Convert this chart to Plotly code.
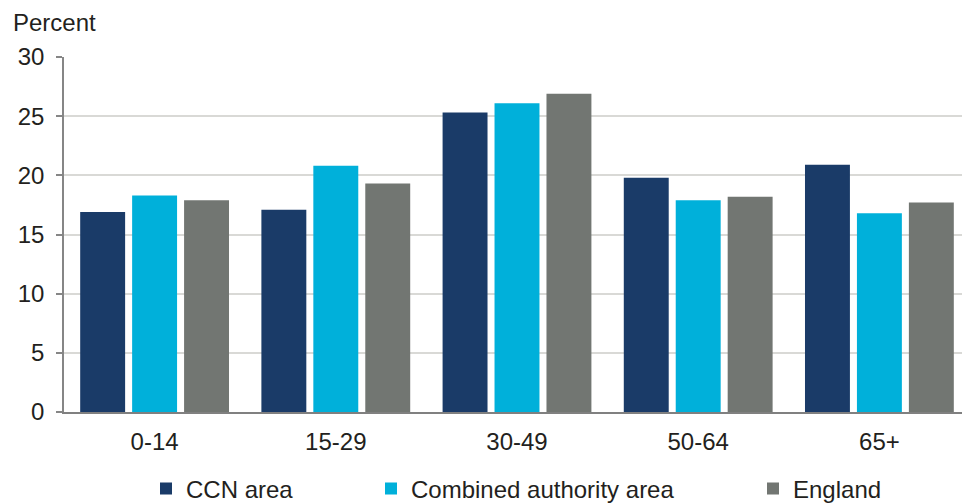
import plotly.graph_objects as go

categories = ["0-14", "15-29", "30-49", "50-64", "65+"]
ccn_area = [16.9, 17.1, 25.3, 19.8, 20.9]
combined_authority = [18.3, 20.8, 26.1, 17.9, 16.8]
england = [17.9, 19.3, 26.9, 18.2, 17.7]
y_ticks = [0, 5, 10, 15, 20, 25, 30]

FONT = "Liberation Sans, Arial, sans-serif"
TXT = "#231f20"
FS = 24

# page has an 8px body margin; figure sized to fill the rest of the window
W, H = 962, 496
L, T, B, R = 56, 49, 92, 0
PW, PH = W - L - R, H - T - B

fig = go.Figure()
fig.add_trace(go.Bar(x=categories, y=ccn_area, name="CCN area",
                     marker=dict(color="#1a3b68", line=dict(width=0)), legend="legend"))
fig.add_trace(go.Bar(x=categories, y=combined_authority, name="Combined authority area",
                     marker=dict(color="#00b0da", line=dict(width=0)), legend="legend2"))
fig.add_trace(go.Bar(x=categories, y=england, name="England",
                     marker=dict(color="#727672", line=dict(width=0)), legend="legend3"))

leg_common = dict(orientation="h", yref="container", xref="container",
                  yanchor="middle", y=1 - 481 / float(H), xanchor="left",
                  font=dict(family=FONT, size=FS, color=TXT), bgcolor="rgba(0,0,0,0)",
                  borderwidth=0, tracegroupgap=0)

fig.update_layout(
    width=W, height=H,
    margin=dict(l=L, r=R, t=T, b=B, autoexpand=False),
    paper_bgcolor="white", plot_bgcolor="white",
    barmode="group", bargap=0.14, bargroupgap=0.135,
    font=dict(family=FONT, size=FS, color=TXT),
    showlegend=True,
    legend=dict(x=138 / float(W), **leg_common),
    legend2=dict(x=363 / float(W), **leg_common),
    legend3=dict(x=745 / float(W), **leg_common),
    xaxis=dict(showline=True, linecolor="#808080", linewidth=2, ticks="",
               showgrid=False, tickfont=dict(family=FONT, size=FS, color=TXT),
               ticklabelstandoff=7),
    yaxis=dict(range=[0, 30], tickvals=y_ticks, showgrid=True, gridcolor="#d9d9d6",
               gridwidth=1.5, zeroline=False, showline=True, linecolor="#868686",
               linewidth=1.5, ticks="outside", ticklen=6, tickcolor="#868686",
               tickwidth=1.5, tickfont=dict(family=FONT, size=FS, color=TXT),
               ticklabelstandoff=7),
    annotations=[dict(text="Percent", xref="paper", yref="paper",
                      x=(4 - L) / float(PW), y=(T + PH) / float(PH),
                      xanchor="left", yanchor="top", showarrow=False, borderpad=0,
                      font=dict(family=FONT, size=FS, color=TXT))],
)

fig.write_html("out.html")
